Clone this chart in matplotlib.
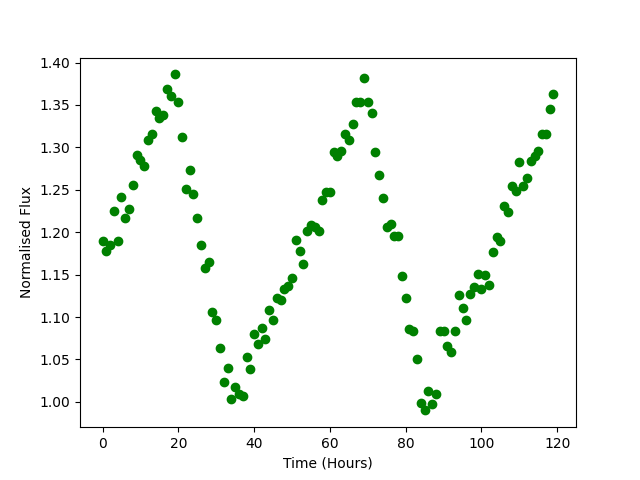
import numpy as np
import matplotlib
matplotlib.use('Agg')
import matplotlib.pyplot as plt

# tempo em horas e fluxo normalizado
horas = np.arange(120)
fluxo = [1.190, 1.178, 1.185, 1.225, 1.190, 1.242, 1.217, 1.227, 1.256, 1.291,
         1.285, 1.278, 1.309, 1.316, 1.343, 1.335, 1.338, 1.369, 1.361, 1.386,
         1.354, 1.312, 1.251, 1.273, 1.245, 1.217, 1.185, 1.158, 1.165, 1.106,
         1.097, 1.063, 1.024, 1.040, 1.003, 1.017, 1.009, 1.007, 1.053, 1.039,
         1.080, 1.068, 1.087, 1.074, 1.108, 1.096, 1.123, 1.120, 1.133, 1.137,
         1.146, 1.191, 1.178, 1.162, 1.202, 1.209, 1.206, 1.202, 1.238, 1.247,
         1.247, 1.295, 1.290, 1.296, 1.316, 1.309, 1.327, 1.354, 1.353, 1.382,
         1.354, 1.340, 1.294, 1.267, 1.240, 1.206, 1.210, 1.196, 1.195, 1.148,
         1.122, 1.086, 1.083, 1.051, 0.999, 0.990, 1.013, 0.998, 1.009, 1.084,
         1.083, 1.066, 1.059, 1.084, 1.126, 1.111, 1.097, 1.127, 1.135, 1.151,
         1.133, 1.149, 1.138, 1.177, 1.194, 1.190, 1.231, 1.224, 1.255, 1.249,
         1.283, 1.254, 1.264, 1.284, 1.290, 1.296, 1.316, 1.316, 1.345, 1.363]

plt.figure(figsize=(6.4, 4.8), dpi=100)
plt.plot(horas, fluxo, 'go')
plt.xlabel('Time (Hours)')
plt.ylabel('Normalised Flux')
plt.savefig('out.png')
